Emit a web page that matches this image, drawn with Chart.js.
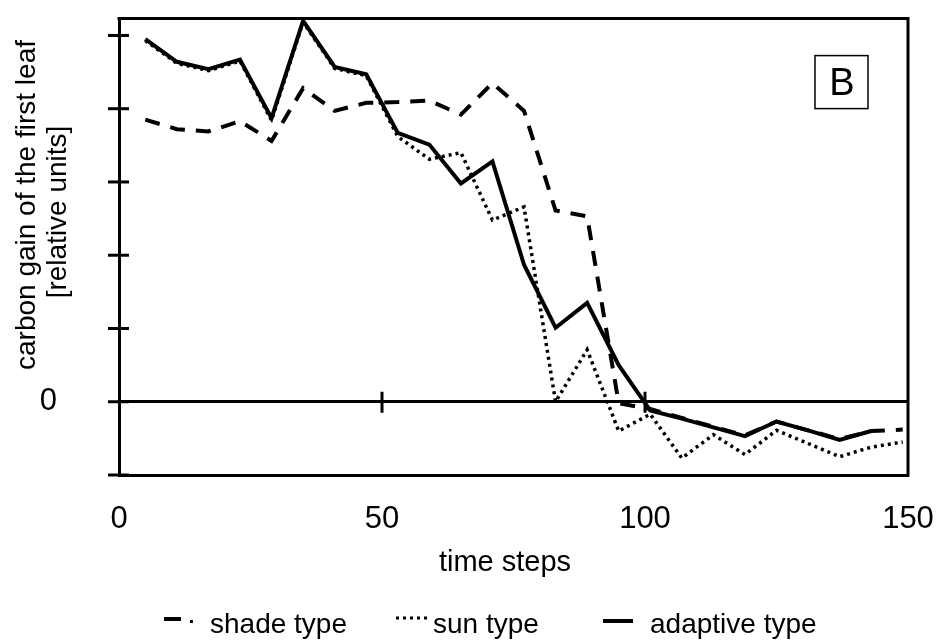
<!DOCTYPE html>
<html>
<head>
<meta charset="utf-8">
<script src="https://cdn.jsdelivr.net/npm/chart.js@4.4.1/dist/chart.umd.min.js"></script>
<style>
  html, body { margin: 0; padding: 0; background: #fff; }
  #wrap { width: 944px; height: 644px; }
</style>
</head>
<body>
<div id="wrap"><canvas id="chart" width="944" height="644"></canvas></div>
<script>
// values (relative units, one point every 6 time steps)
const timeSteps = [5, 11, 17, 23, 29, 35, 41, 47, 53, 59, 65, 71, 77, 83, 89, 95, 101, 107, 113, 119, 125, 131, 137, 143, 149];
const shadeType = [3.85, 3.72, 3.69, 3.83, 3.56, 4.28, 3.97, 4.08, 4.09, 4.11, 3.92, 4.35, 3.97, 2.61, 2.53, -0.02, -0.10, -0.22, -0.34, -0.46, -0.27, -0.39, -0.51, -0.40, -0.38];
const sunType = [4.93, 4.62, 4.52, 4.65, 3.84, 5.18, 4.55, 4.45, 3.62, 3.31, 3.40, 2.48, 2.66, 0.00, 0.71, -0.40, -0.17, -0.77, -0.45, -0.72, -0.39, -0.57, -0.75, -0.62, -0.55];
const adaptiveType = [4.95, 4.64, 4.54, 4.67, 3.87, 5.20, 4.57, 4.47, 3.67, 3.51, 2.98, 3.28, 1.87, 1.01, 1.35, 0.50, -0.12, -0.23, -0.35, -0.47, -0.27, -0.39, -0.52, -0.40, null];

const xTickValues = [0, 50, 100, 150];
const yTickValues = [-1, 0, 1, 2, 3, 4, 5];
const seriesNames = ['shade type', 'sun type', 'adaptive type'];
const yTitleLines = ['carbon gain of the first leaf', '[relative units]'];
const xTitle = 'time steps';
const panelLabel = 'B';

const FONT = "'Liberation Sans', Arial, Helvetica, sans-serif";

function toPoints(values) {
    return timeSteps.map((t, i) => ({ x: t, y: values[i] }));
}

// frame, crossing tick marks, panel letter, titles and the legend row
const decorations = {
    id: 'decorations',
    afterDraw(chart) {
        const { ctx, chartArea: area, scales: { x, y } } = chart;
        ctx.save();
        ctx.strokeStyle = '#000';
        ctx.fillStyle = '#000';
        ctx.lineWidth = 3;
        ctx.lineCap = 'square';

        // top and right side of the box
        ctx.beginPath();
        ctx.moveTo(area.left, area.top);
        ctx.lineTo(area.right, area.top);
        ctx.lineTo(area.right, area.bottom);
        ctx.stroke();

        // y ticks cross the left axis
        ctx.lineCap = 'butt';
        for (const v of yTickValues) {
            const py = y.getPixelForValue(v);
            ctx.beginPath();
            ctx.moveTo(area.left - 11, py);
            ctx.lineTo(area.left + 10, py);
            ctx.stroke();
        }
        // x ticks sit on the zero line
        const y0 = y.getPixelForValue(0);
        for (const v of xTickValues.slice(1, -1)) {
            const px = x.getPixelForValue(v);
            ctx.beginPath();
            ctx.moveTo(px, y0 - 10);
            ctx.lineTo(px, y0 + 11);
            ctx.stroke();
        }

        // panel letter
        ctx.lineWidth = 1.5;
        const bx = area.right - 93, by = area.top + 37;
        ctx.strokeRect(bx, by, 53, 53);
        ctx.font = `38px ${FONT}`;
        ctx.textAlign = 'center';
        ctx.textBaseline = 'middle';
        ctx.fillText(panelLabel, bx + 27, by + 29);

        // axis titles
        ctx.font = `29px ${FONT}`;
        ctx.fillText(xTitle, 505, 563);
        ctx.font = `28px ${FONT}`;
        ctx.save();
        ctx.translate(27, 205);
        ctx.rotate(-Math.PI / 2);
        ctx.fillText(yTitleLines[0], 0, 0);
        ctx.restore();
        ctx.save();
        ctx.translate(58, 212);
        ctx.rotate(-Math.PI / 2);
        ctx.fillText(yTitleLines[1], 0, 0);
        ctx.restore();

        // legend row
        ctx.textAlign = 'left';
        ctx.textBaseline = 'alphabetic';
        const base = 633;
        const sym = 621;
        // shade: dash and dot
        ctx.lineWidth = 4;
        ctx.beginPath();
        ctx.moveTo(164, sym - 2);
        ctx.lineTo(181, sym - 2);
        ctx.stroke();
        ctx.fillRect(190, sym - 1, 3, 3);
        ctx.fillText(seriesNames[0], 210, base);
        // sun: thin dots
        ctx.lineWidth = 3;
        ctx.setLineDash([3, 4]);
        ctx.beginPath();
        ctx.moveTo(396, sym - 3);
        ctx.lineTo(428, sym - 3);
        ctx.stroke();
        ctx.setLineDash([]);
        ctx.fillText(seriesNames[1], 433, base);
        // adaptive: solid bar
        ctx.lineWidth = 4;
        ctx.beginPath();
        ctx.moveTo(603, sym);
        ctx.lineTo(633, sym);
        ctx.stroke();
        ctx.fillText(seriesNames[2], 650, base);

        ctx.restore();
    }
};

new Chart(document.getElementById('chart'), {
    type: 'line',
    data: {
        datasets: [
            {
                label: seriesNames[2],
                data: toPoints(adaptiveType),
                borderColor: '#000',
                borderWidth: 4,
                order: 0
            },
            {
                label: seriesNames[0],
                data: toPoints(shadeType),
                borderColor: '#000',
                borderWidth: 4,
                borderDash: [15, 11],
                order: 1
            },
            {
                label: seriesNames[1],
                data: toPoints(sunType),
                borderColor: '#000',
                borderWidth: 3.5,
                borderDash: [3, 4],
                order: 2
            }
        ]
    },
    options: {
        responsive: false,
        animation: false,
        spanGaps: false,
        elements: {
            point: { radius: 0 },
            line: { tension: 0, fill: false, borderCapStyle: 'butt', borderJoinStyle: 'miter' }
        },
        layout: { padding: { top: 13, right: 36, bottom: 0, left: 0 } },
        plugins: {
            legend: { display: false },
            tooltip: { enabled: false },
            title: { display: false }
        },
        scales: {
            x: {
                type: 'linear',
                min: 0,
                max: 150,
                afterBuildTicks: (scale) => { scale.ticks = xTickValues.map(v => ({ value: v })); },
                afterFit: (scale) => { scale.height = 169; },
                grid: {
                    display: true,
                    drawOnChartArea: false,
                    drawTicks: true,
                    tickLength: 26,
                    tickColor: 'rgba(0,0,0,0)'
                },
                border: { display: true, color: '#000', width: 3 },
                ticks: {
                    color: '#000',
                    font: { family: FONT, size: 31 },
                    padding: 0,
                    maxRotation: 0,
                    autoSkip: false
                }
            },
            y: {
                min: -1,
                max: 5.23,
                afterBuildTicks: (scale) => { scale.ticks = yTickValues.map(v => ({ value: v })); },
                afterFit: (scale) => { scale.width = 119; },
                grid: {
                    drawTicks: true,
                    tickLength: 62,
                    tickColor: 'rgba(0,0,0,0)',
                    lineWidth: 3,
                    color: (c) => (c.tick && c.tick.value === 0 ? '#000' : 'rgba(0,0,0,0)')
                },
                border: { display: true, color: '#000', width: 3 },
                ticks: {
                    color: '#000',
                    font: { family: FONT, size: 31 },
                    padding: 0,
                    callback: (v) => (v === 0 ? '0' : null)
                }
            }
        }
    },
    plugins: [decorations]
});
</script>
</body>
</html>
